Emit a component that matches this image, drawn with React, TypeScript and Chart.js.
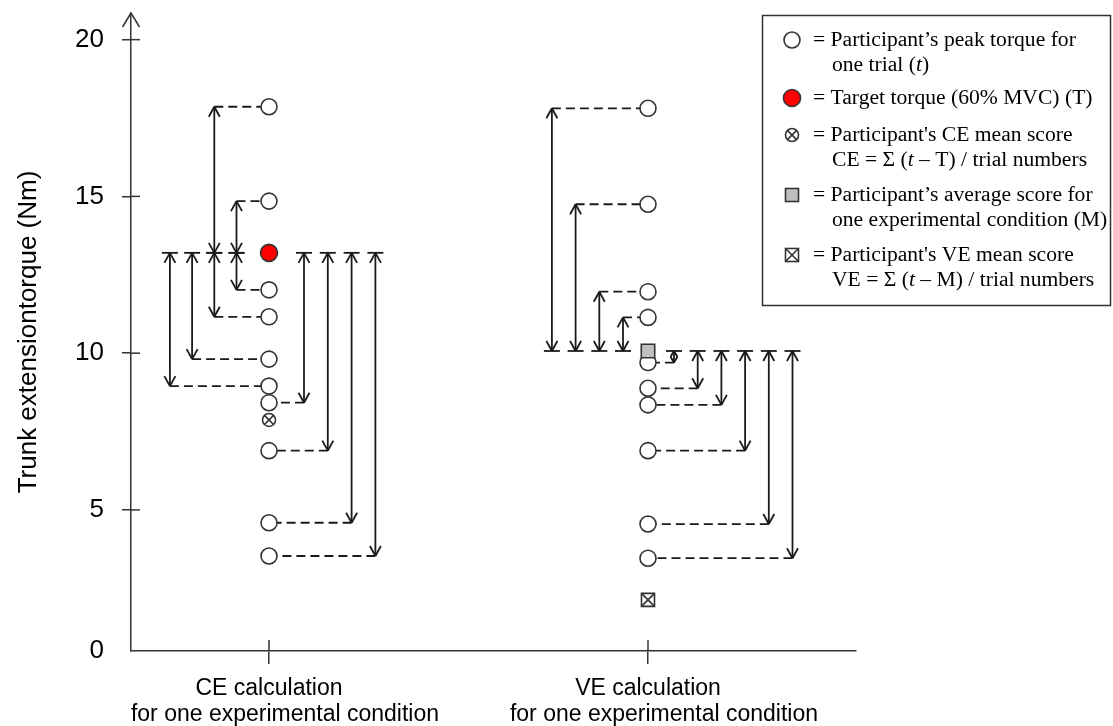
import React, { useEffect, useRef } from 'react';
import { Chart, registerables } from 'chart.js';

Chart.register(...registerables);

// ---------------- data ----------------
const categories: string[][] = [
  ['CE calculation', '     for one experimental condition'],
  ['VE calculation', '     for one experimental condition'],
];
const columnX = [1, 2];

// CE column
const ceTrials = [17.86, 14.85, 12.02, 11.16, 9.81, 8.95, 8.42, 6.89, 4.59, 3.53];
const ceLanes = [-2, -1, -1, -2, -3, -4, 1, 2, 3, 4];
const targetTorque = 13.2;
const ceMeanScore = 7.87;

// VE column
const veTrials = [17.81, 14.75, 11.96, 11.14, 9.7, 8.88, 8.35, 6.89, 4.55, 3.46];
const veLanes = [-4, -3, -2, -1, 1, 2, 3, 4, 5, 6];
const veAverage = 10.07;
const veMeanScore = 2.13;

const yTickValues = [0, 5, 10, 15, 20];
const yTickLabels = ['0', '5', '10', '15', '20'];
const yTitle = 'Trunk extensiontorque (Nm)';

// ---------------- style ----------------
const SANS = '"Liberation Sans", Arial, sans-serif';
const SERIF = '"Liberation Serif", "Times New Roman", serif';
const AXIS = '#333333';
const INK = '#1a1a1a';
const Y_MIN = 0.5; // axis bottom shown as "0"
const Y_MAX = 20.85;
const X_MIN = 1 - 138 / 379;
const X_MAX = 2 + 208 / 379;

const laneGeom = [
  { left: { gap: 32.5, step: 22.2 }, right: { gap: 35, step: 23.8 } },
  { left: { gap: 25, step: 23.7 }, right: { gap: 26, step: 23.7 } },
];

type Run = { t: string; i?: boolean };
const legendEntries: { marker: string; lines: Run[][] }[] = [
  { marker: 'circle', lines: [[{ t: '= Participant\u2019s peak torque for' }], [{ t: 'one trial (' }, { t: 't', i: true }, { t: ')' }]] },
  { marker: 'red', lines: [[{ t: '= Target torque (60% MVC) (T)' }]] },
  { marker: 'ocross', lines: [[{ t: "= Participant's CE mean score" }], [{ t: 'CE = \u03A3 (' }, { t: 't', i: true }, { t: ' \u2013 T) / trial numbers' }]] },
  { marker: 'gray', lines: [[{ t: '= Participant\u2019s average score for' }], [{ t: 'one experimental condition (M)' }]] },
  { marker: 'xbox', lines: [[{ t: "= Participant's VE mean score" }], [{ t: 'VE = \u03A3 (' }, { t: 't', i: true }, { t: ' \u2013 M) / trial numbers' }]] },
];
const legendRowY = [[40, 65], [98], [135, 160], [195, 220], [255, 280]];

function line(ctx: CanvasRenderingContext2D, x1: number, y1: number, x2: number, y2: number) {
  ctx.beginPath();
  ctx.moveTo(x1, y1);
  ctx.lineTo(x2, y2);
  ctx.stroke();
}

const arrowPlugin = {
  id: 'arrowPlugin',
  beforeDatasetsDraw(chart: any) {
    const { ctx, scales } = chart;
    const xs = scales.x;
    const ys = scales.y;
    const groups = [
      { col: columnX[0], base: targetTorque, trials: ceTrials, lanes: ceLanes, geom: laneGeom[0] },
      { col: columnX[1], base: veAverage, trials: veTrials, lanes: veLanes, geom: laneGeom[1] },
    ];
    ctx.save();
    ctx.strokeStyle = INK;
    ctx.lineWidth = 1.8;
    ctx.lineCap = 'butt';
    for (const g of groups) {
      const cx = xs.getPixelForValue(g.col);
      const yb = ys.getPixelForValue(g.base);
      g.trials.forEach((t, i) => {
        const lane = g.lanes[i];
        const side = lane < 0 ? -1 : 1;
        const cfg = lane < 0 ? g.geom.left : g.geom.right;
        const ax = cx + side * (cfg.gap + (Math.abs(lane) - 1) * cfg.step);
        const yt = ys.getPixelForValue(t);
        const dir = yt < yb ? -1 : 1;
        const len = Math.abs(yt - yb);
        const hl = Math.min(10, len / 2);
        const hw = Math.min(5.5, hl * 0.6);
        ctx.setLineDash([]);
        line(ctx, ax, yb, ax, yt);
        line(ctx, ax, yt, ax - hw, yt - dir * hl);
        line(ctx, ax, yt, ax + hw, yt - dir * hl);
        line(ctx, ax, yb, ax - hw, yb + dir * hl);
        line(ctx, ax, yb, ax + hw, yb + dir * hl);
        line(ctx, ax - 8, yb, ax + 8, yb);
        ctx.setLineDash([9, 5]);
        line(ctx, ax, yt, cx + side * 8, yt);
        ctx.setLineDash([]);
      });
    }
    ctx.restore();
  },
};

function drawMarker(ctx: CanvasRenderingContext2D, kind: string, x: number, y: number) {
  ctx.save();
  ctx.lineWidth = 1.6;
  ctx.strokeStyle = AXIS;
  if (kind === 'circle' || kind === 'red') {
    ctx.beginPath();
    ctx.arc(x, y, kind === 'red' ? 8.5 : 8, 0, Math.PI * 2);
    ctx.fillStyle = kind === 'red' ? '#ff0000' : '#ffffff';
    ctx.fill();
    ctx.stroke();
  } else if (kind === 'ocross') {
    const r = 6.5;
    ctx.beginPath();
    ctx.arc(x, y, r, 0, Math.PI * 2);
    ctx.fillStyle = '#fff';
    ctx.fill();
    ctx.stroke();
    const d = r * Math.SQRT1_2;
    line(ctx, x - d, y - d, x + d, y + d);
    line(ctx, x - d, y + d, x + d, y - d);
  } else {
    const h = 6.5;
    ctx.fillStyle = kind === 'gray' ? '#c0c0c0' : '#ffffff';
    ctx.fillRect(x - h, y - h, 2 * h, 2 * h);
    ctx.strokeRect(x - h, y - h, 2 * h, 2 * h);
    if (kind === 'xbox') {
      line(ctx, x - h, y - h, x + h, y + h);
      line(ctx, x - h, y + h, x + h, y - h);
    }
  }
  ctx.restore();
}

const decorPlugin = {
  id: 'decorPlugin',
  afterDraw(chart: any) {
    const { ctx, chartArea, scales } = chart;
    const xs = scales.x;
    const ys = scales.y;
    ctx.save();
    ctx.strokeStyle = AXIS;
    ctx.lineWidth = 1.5;
    const ax = chartArea.left;
    const top = chartArea.top;
    line(ctx, ax, top, ax - 8.5, top + 14);
    line(ctx, ax, top, ax + 8.5, top + 14);
    yTickValues.forEach((v) => {
      if (v <= Y_MIN) return;
      const py = ys.getPixelForValue(v);
      line(ctx, ax, py, ax + 9, py);
    });
    columnX.forEach((v) => {
      const px = xs.getPixelForValue(v);
      line(ctx, px, chartArea.bottom, px, chartArea.bottom - 11);
    });

    // legend box
    const bx = 762.5, by = 15.5, bw = 348, bh = 290;
    ctx.fillStyle = '#ffffff';
    ctx.fillRect(bx, by, bw, bh);
    ctx.strokeStyle = AXIS;
    ctx.lineWidth = 1.5;
    ctx.strokeRect(bx, by, bw, bh);

    ctx.textBaseline = 'middle';
    ctx.textAlign = 'left';
    legendEntries.forEach((e, k) => {
      const rows = legendRowY[k];
      drawMarker(ctx, e.marker, 792, rows[0]);
      e.lines.forEach((runs, li) => {
        let x = li === 0 ? 813 : 832;
        const y = rows[li];
        runs.forEach((r) => {
          ctx.font = `${r.i ? 'italic ' : ''}21.6px ${SERIF}`;
          ctx.fillStyle = '#000';
          ctx.fillText(r.t, x, y);
          x += ctx.measureText(r.t).width;
        });
      });
    });
    ctx.restore();
  },
};

function pointsAt(col: number, values: number[]) {
  return values.map((v) => ({ x: col, y: v }));
}

export default function App() {
  const canvasRef = useRef<HTMLCanvasElement | null>(null);

  useEffect(() => {
    if (!canvasRef.current) return;
    const pt = { pointBorderColor: AXIS, pointBorderWidth: 1.6 };
    const chart = new Chart(canvasRef.current, {
      type: 'scatter',
      data: {
        datasets: [
          {
            label: 'M',
            data: pointsAt(columnX[1], [veAverage]),
            pointStyle: 'rect',
            pointRadius: 9.5,
            pointHoverRadius: 9.5,
            pointBackgroundColor: '#c0c0c0',
            ...pt,
          },
          {
            label: 'CE cross',
            data: pointsAt(columnX[0], [ceMeanScore]),
            pointStyle: 'crossRot',
            pointRadius: 6.5,
            pointHoverRadius: 6.5,
            ...pt,
          },
          {
            label: 'CE mean',
            data: pointsAt(columnX[0], [ceMeanScore]),
            pointStyle: 'circle',
            pointRadius: 6.5,
            pointHoverRadius: 6.5,
            pointBackgroundColor: '#ffffff',
            ...pt,
          },
          {
            label: 'VE cross',
            data: pointsAt(columnX[1], [veMeanScore]),
            pointStyle: 'crossRot',
            pointRadius: 9.2,
            pointHoverRadius: 9.2,
            ...pt,
          },
          {
            label: 'VE mean',
            data: pointsAt(columnX[1], [veMeanScore]),
            pointStyle: 'rect',
            pointRadius: 9.2,
            pointHoverRadius: 9.2,
            pointBackgroundColor: '#ffffff',
            ...pt,
          },
          {
            label: 'T',
            data: pointsAt(columnX[0], [targetTorque]),
            pointStyle: 'circle',
            pointRadius: 8.5,
            pointHoverRadius: 8.5,
            pointBackgroundColor: '#ff0000',
            ...pt,
          },
          {
            label: 'CE trials',
            data: pointsAt(columnX[0], ceTrials),
            pointStyle: 'circle',
            pointRadius: 8,
            pointHoverRadius: 8,
            pointBackgroundColor: '#ffffff',
            ...pt,
          },
          {
            label: 'VE trials',
            data: pointsAt(columnX[1], veTrials),
            pointStyle: 'circle',
            pointRadius: 8,
            pointHoverRadius: 8,
            pointBackgroundColor: '#ffffff',
            ...pt,
          },
        ].map((d) => ({ showLine: false, ...d })) as any,
      },
      options: {
        responsive: true,
        maintainAspectRatio: false,
        animation: false,
        events: [],
        layout: { padding: { top: 13, right: 257, bottom: 0, left: 0 } },
        plugins: {
          legend: { display: false },
          tooltip: { enabled: false },
        },
        scales: {
          x: {
            type: 'linear',
            min: X_MIN,
            max: X_MAX,
            afterFit: (s: any) => {
              s.height = 75;
              s.paddingLeft = 0;
              s.paddingRight = 0;
            },
            afterBuildTicks: (s: any) => {
              s.ticks = columnX.map((v) => ({ value: v }));
            },
            ticks: {
              callback: (_v: any, i: number) => categories[i],
              font: { family: SANS, size: 23, lineHeight: 1.12 },
              color: '#000',
              padding: 12,
              maxRotation: 0,
              autoSkip: false,
            },
            grid: {
              display: true,
              drawOnChartArea: false,
              drawTicks: true,
              tickLength: 13,
              color: AXIS,
              lineWidth: 1.5,
            },
            border: { display: true, color: AXIS, width: 1.5 },
          },
          y: {
            type: 'linear',
            min: Y_MIN,
            max: Y_MAX,
            afterFit: (s: any) => {
              s.width = 131;
              s.paddingTop = 0;
              s.paddingBottom = 0;
            },
            afterBuildTicks: (s: any) => {
              s.ticks = yTickValues.map((v) => ({ value: Math.max(v, Y_MIN) }));
            },
            ticks: {
              callback: (_v: any, i: number) => yTickLabels[i],
              font: { family: SANS, size: 26 },
              color: '#000',
              padding: 18,
              autoSkip: false,
            },
            grid: {
              display: true,
              drawOnChartArea: false,
              drawTicks: true,
              tickLength: 9,
              color: (c: any) => (c.tick && c.tick.value <= Y_MIN ? 'rgba(0,0,0,0)' : AXIS),
              lineWidth: 1.5,
            },
            border: { display: true, color: AXIS, width: 1.5 },
            title: {
              display: true,
              text: yTitle,
              font: { family: SANS, size: 26 },
              color: '#000',
              padding: { top: 13, bottom: 0 },
            },
          },
        },
      },
      plugins: [arrowPlugin, decorPlugin],
    });
    return () => chart.destroy();
  }, []);

  return (
    <div style={{ position: 'absolute', left: 0, top: 0, width: 1113, height: 726 }}>
      <canvas ref={canvasRef} />
    </div>
  );
}
